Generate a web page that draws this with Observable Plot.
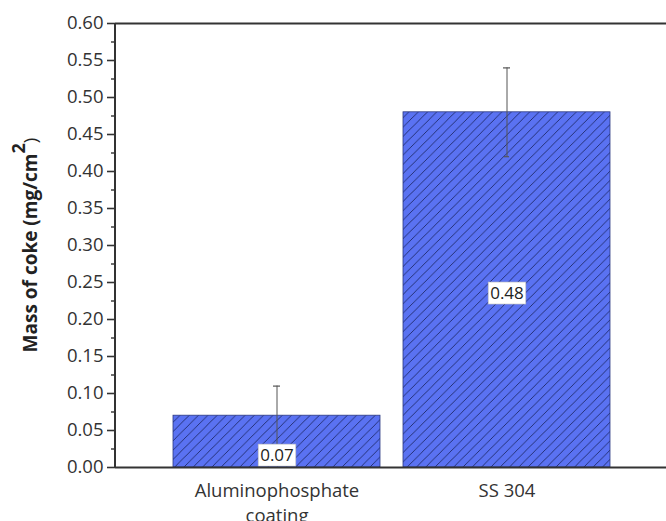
<!DOCTYPE html>
<html>
<head>
<meta charset="utf-8">
<script src="https://cdn.jsdelivr.net/npm/d3@7"></script>
<script src="https://cdn.jsdelivr.net/npm/@observablehq/plot@0.6"></script>
<style>
  html, body { margin: 0; padding: 0; background: #fff; }
  svg { display: block; }
</style>
</head>
<body>
<div id="chart"></div>
<script>
// ---- data ----
const categories = ["Aluminophosphate coating", "SS 304"];
const tickLabels = ["Aluminophosphate\ncoating", "SS 304"];
const values = [0.07, 0.48];
const errLow = [0.03, 0.42];
const errHigh = [0.11, 0.54];
const valueLabels = ["0.07", "0.48"];
const labelY = [0.016, 0.235];
const yTicks = [0, 0.05, 0.10, 0.15, 0.20, 0.25, 0.30, 0.35, 0.40, 0.45, 0.50, 0.55, 0.60];
const yMinorTicks = [0.025, 0.075, 0.125, 0.175, 0.225, 0.275, 0.325, 0.375, 0.425, 0.475, 0.525, 0.575];

const rows = categories.map((c, i) => ({
  cat: c, value: values[i], lo: errLow[i], hi: errHigh[i], label: valueLabels[i], ly: labelY[i]
}));

const FONT = "'Open Sans', sans-serif";
const AXIS = "#333";

const chart = Plot.plot({
  width: 666,
  height: 521,
  marginLeft: 115,
  marginRight: 0,
  marginTop: 23,
  marginBottom: 54,
  style: { fontFamily: FONT, fontSize: "18px", color: "#333", background: "#fff" },
  x: { domain: categories, range: [115, 668], paddingInner: 0.1, paddingOuter: 0.247, axis: null, label: null },
  y: { domain: [0, 0.6], axis: null, label: null },
  marks: [
    Plot.barY(rows, { x: "cat", y: "value", fill: "url(#hatch)", stroke: "#2a3780", strokeWidth: 0.8 }),
    // error bars
    Plot.ruleX(rows, { x: "cat", y1: "lo", y2: "hi", stroke: "#555", strokeWidth: 1 }),
    Plot.tickY(rows, { x: "cat", y: "hi", stroke: "#555", strokeWidth: 1.2, insetLeft: 100, insetRight: 100 }),
    Plot.tickY(rows, { x: "cat", y: "lo", stroke: "#555", strokeWidth: 1.2, insetLeft: 101, insetRight: 101 }),
    // value labels
    Plot.text(rows, { x: "cat", y: "ly", text: "label", fill: "#222", fontSize: 17, className: "vlabel" }),
    // frame: top line and bottom axis line
    Plot.ruleY([0.6], { stroke: AXIS, strokeWidth: 2 }),
    Plot.ruleY([0], { stroke: AXIS, strokeWidth: 2 }),
    // y axis
    Plot.axisY(yTicks, { tickSize: 8, tickPadding: 4, tickFormat: d3.format(".2f"), stroke: AXIS, strokeWidth: 1.6, fill: "#333", fontSize: 18.5, label: null }),
    Plot.axisY(yMinorTicks, { tickSize: 4, text: null, stroke: AXIS, strokeWidth: 1.4, label: null }),
    Plot.axisX(categories, { tickSize: 0, tickPadding: 12, tickFormat: (d) => tickLabels[categories.indexOf(d)], fill: "#333", fontSize: 18.5, lineHeight: 1.35, label: null })
  ]
});

document.getElementById("chart").appendChild(chart);
const svg = d3.select(chart);

// hatch pattern
const H = 9.3;
const defs = svg.insert("defs", ":first-child");
const pat = defs.append("pattern")
  .attr("id", "hatch")
  .attr("patternUnits", "userSpaceOnUse")
  .attr("width", H).attr("height", H);
pat.append("rect").attr("width", H).attr("height", H).attr("fill", "#5a72f2");
pat.append("path")
  .attr("d", `M0,${H} L${H},0 M-2,2 L2,-2 M${H - 2},${H + 2} L${H + 2},${H - 2}`)
  .attr("stroke", "#1f2a6a").attr("stroke-width", 0.9);

// left axis spine
const y = chart.scale("y");
svg.append("line")
  .attr("x1", 115).attr("x2", 115)
  .attr("y1", y.apply(0.6)).attr("y2", y.apply(0))
  .attr("stroke", AXIS).attr("stroke-width", 2);

// white boxes behind value labels
svg.selectAll("g.vlabel text").each(function () {
  const b = this.getBBox();
  d3.select(this.parentNode).insert("rect", () => this)
    .attr("transform", this.getAttribute("transform"))
    .attr("x", b.x - 2).attr("y", b.y + 1)
    .attr("width", b.width + 4).attr("height", b.height - 1)
    .attr("fill", "#fff").attr("stroke", "#bbb").attr("stroke-width", 0.6);
});

// y axis title with superscript
const cy = (y.apply(0.6) + y.apply(0)) / 2;
const t = svg.append("text")
  .attr("transform", `translate(30,${cy}) rotate(-90)`)
  .attr("text-anchor", "middle")
  .attr("dominant-baseline", "central")
  .attr("font-family", FONT)
  .attr("font-weight", "bold")
  .attr("font-size", 19)
  .attr("fill", "#222");
t.append("tspan").text("Mass of coke (mg/cm");
t.append("tspan").attr("baseline-shift", "super").attr("font-size", 18).text("2");
t.append("tspan").attr("font-weight", "normal").text(")");
</script>
</body>
</html>
